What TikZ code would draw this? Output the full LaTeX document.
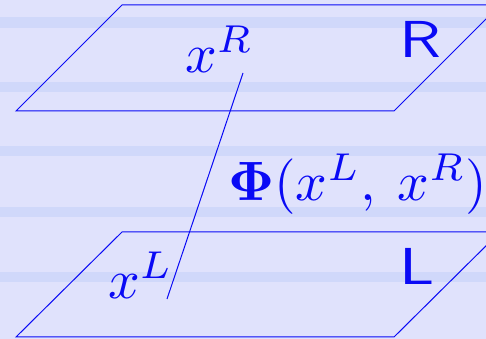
\documentclass[tikz,border=0pt]{standalone}
\usepackage{amsmath,amssymb}
\usepackage{tikz}
\usetikzlibrary{positioning}
\usepackage{xcolor}
\definecolor{pagebg}{RGB}{224,226,252}
\definecolor{stripe}{RGB}{208,216,250}
\definecolor{ink}{RGB}{10,10,245}

\begin{document}
\begin{tikzpicture}[x=1pt,y=1pt,
  plane/.style={draw=ink,line width=1pt},
  lbl/.style={text=ink,inner sep=0pt,anchor=base west,scale=5.55,transform shape},
  side/.style={text=ink,inner sep=0pt,anchor=base west,font=\sffamily,xscale=6.5,yscale=5.2,transform shape}]
\useasboundingbox (0,0) rectangle (486,339);
\clip (0,0) rectangle (486,339);
\fill[pagebg] (0,0) rectangle (486,339);
% stripes
\foreach \ya/\yb in {311/322,247/257,183/193,122/132,57/67}
  \fill[stripe] (0,\ya) rectangle (486,\yb);
% planes
\draw[plane] (16,228) -- (122,334) -- (500,334) -- (394,228) -- cycle;
\draw[plane] (16,2) -- (122,107) -- (500,107) -- (394,2) -- cycle;
% labels
\node (xr) [lbl] at (184,266) {$x^R$};
\node (xl) [lbl] at (107,40) {$x^L$};
\node (phi) [lbl] at (227,138) {$\mathbf{\Phi}(x^L,\:x^R)$};
\node (rr) [side] at (398,281) {R};
\node (ll) [side] at (398,54) {L};
\coordinate (lo) at (167,40);
\coordinate (hi) at (243,266);
\draw[plane] (lo) -- (hi);
\end{tikzpicture}
\end{document}
